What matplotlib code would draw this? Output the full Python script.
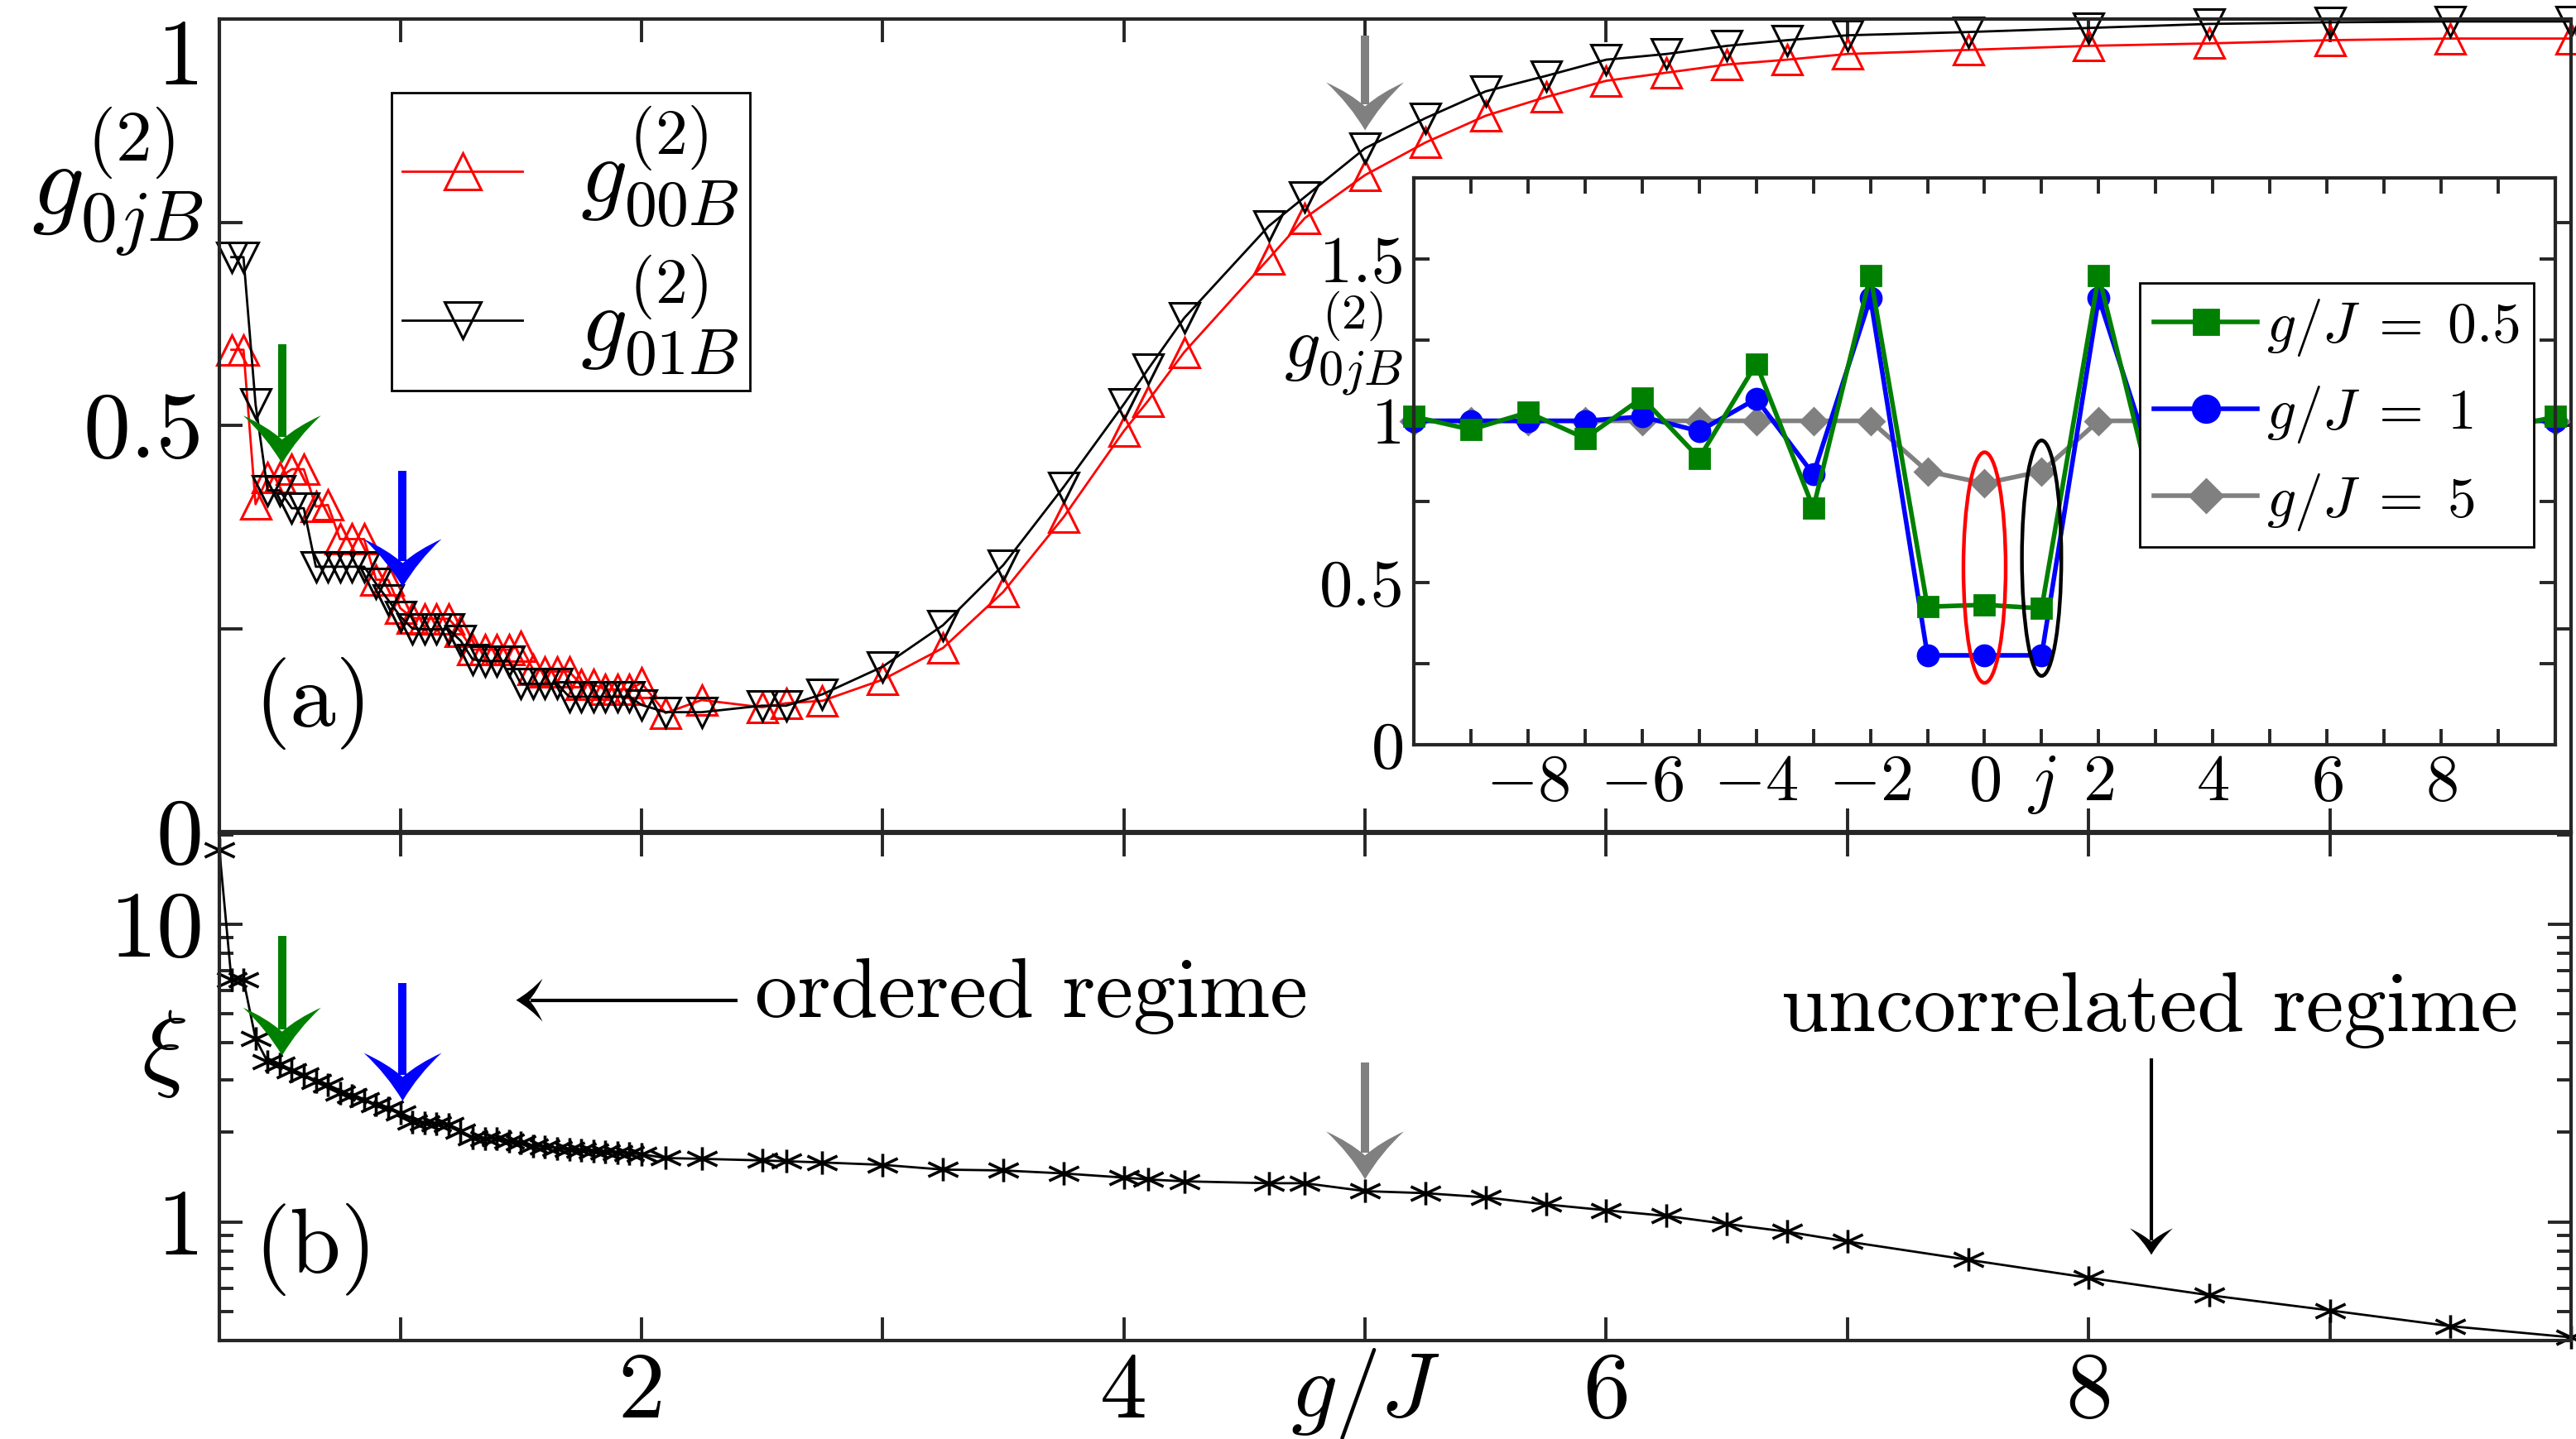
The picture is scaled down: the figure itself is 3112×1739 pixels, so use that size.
import numpy as np
import matplotlib
matplotlib.use('Agg')
import matplotlib.pyplot as plt
from matplotlib.path import Path
from matplotlib.patches import PathPatch, Ellipse
from matplotlib.lines import Line2D
from matplotlib.transforms import IdentityTransform

plt.rcParams['font.family'] = 'serif'
plt.rcParams['font.serif'] = ['cmr10']
plt.rcParams['mathtext.fontset'] = 'cm'
plt.rcParams['axes.formatter.use_mathtext'] = True

# ---- data ----
g_grid = [0.3, 0.35, 0.4, 0.45, 0.5, 0.55, 0.6, 0.65, 0.7, 0.75, 0.8, 0.85, 0.9, 0.95,
          1.0, 1.05, 1.1, 1.15, 1.2, 1.25, 1.3, 1.35, 1.4, 1.45, 1.5, 1.55, 1.6, 1.65,
          1.7, 1.75, 1.8, 1.85, 1.9, 1.95, 2.0, 2.1, 2.25, 2.5, 2.6, 2.75, 3.0, 3.25,
          3.5, 3.75, 4.0, 4.1, 4.25, 4.6, 4.75, 5.0, 5.25, 5.5, 5.75, 6.0, 6.25, 6.5,
          6.75, 7.0, 7.5, 8.0, 8.5, 9.0, 9.5, 10.0]
g00B = [0.593, 0.593, 0.403, 0.436, 0.436, 0.446, 0.446, 0.400, 0.402, 0.360, 0.360, 0.360,
        0.310, 0.310, 0.275, 0.263, 0.262, 0.262, 0.262, 0.246, 0.224, 0.224, 0.224, 0.224,
        0.228, 0.200, 0.197, 0.197, 0.197, 0.181, 0.181, 0.175, 0.175, 0.175, 0.183, 0.146,
        0.162, 0.153, 0.158, 0.161, 0.187, 0.226, 0.295, 0.387, 0.493, 0.530, 0.590, 0.705,
        0.755, 0.808, 0.848, 0.881, 0.904, 0.924, 0.934, 0.944, 0.950, 0.957, 0.962, 0.967,
        0.970, 0.974, 0.976, 0.976]
g01B = [0.707, 0.707, 0.526, 0.420, 0.420, 0.398, 0.398, 0.326, 0.326, 0.326, 0.326, 0.326,
        0.305, 0.285, 0.265, 0.250, 0.249, 0.249, 0.249, 0.235, 0.212, 0.210, 0.210, 0.210,
        0.182, 0.182, 0.182, 0.182, 0.166, 0.166, 0.166, 0.166, 0.166, 0.166, 0.156, 0.147,
        0.147, 0.155, 0.155, 0.169, 0.203, 0.254, 0.328, 0.424, 0.526, 0.569, 0.632, 0.745,
        0.781, 0.841, 0.878, 0.911, 0.930, 0.950, 0.957, 0.967, 0.974, 0.980, 0.984, 0.989,
        0.994, 0.996, 0.997, 0.997]

xi_grid = [0.25] + g_grid
xi = [17.8, 6.5, 6.5, 4.13, 3.45, 3.38, 3.22, 3.12, 2.96, 2.89, 2.71, 2.66, 2.57, 2.47,
      2.42, 2.32, 2.16, 2.15, 2.14, 2.12, 2.02, 1.92, 1.90, 1.91, 1.87, 1.84, 1.80, 1.79,
      1.77, 1.75, 1.74, 1.73, 1.72, 1.71, 1.70, 1.69, 1.64, 1.63, 1.61, 1.60, 1.585, 1.556,
      1.50, 1.49, 1.456, 1.41, 1.39, 1.37, 1.35, 1.35, 1.27, 1.25, 1.21, 1.146, 1.095,
      1.048, 0.985, 0.928, 0.86, 0.747, 0.65, 0.568, 0.505, 0.447, 0.41]

j_sites = [-10, -9, -8, -7, -6, -5, -4, -3, -2, -1, 0, 1, 2, 3, 4, 5, 6, 7, 8, 9, 10]
g2_05 = [1.013, 0.973, 1.026, 0.946, 1.071, 0.885, 1.176, 0.731, 1.449, 0.426, 0.432,
         0.421, 1.449, 0.731, 1.176, 0.885, 1.071, 0.946, 1.026, 0.973, 1.013]
g2_1 = [1.0, 1.0, 1.0, 1.0, 1.013, 0.968, 1.068, 0.835, 1.38, 0.276, 0.276, 0.276, 1.38,
        0.835, 1.068, 0.968, 1.013, 1.0, 1.0, 1.0, 1.0]
g2_5 = [1.0, 1.0, 1.0, 1.0, 1.0, 1.0, 1.0, 1.0, 1.0, 0.844, 0.807, 0.844, 1.0, 1.0, 1.0,
        1.0, 1.0, 1.0, 1.0, 1.0, 1.0]

# marked couplings g/J (arrows) and where the arrows sit
arrow_g = [0.51, 1.01, 5.0]
arrow_col = ['#008000', '#0000ff', '#808080']
arrow_top_a = [0.60, 0.444, 0.98]
arrow_tip_a = [0.453, 0.301, 0.863]
arrow_top_b = [9.12, 6.36, 3.43]
arrow_tip_b = [3.62, 2.55, 1.39]

DPI = 200
fig = plt.figure(figsize=(3112 / DPI, 1739 / DPI), dpi=DPI)
ax1 = fig.add_axes([0.08516, 0.42208, 0.91292, 0.56469])
ax2 = fig.add_axes([0.08516, 0.06843, 0.91292, 0.35250])
axi = fig.add_axes([0.54884, 0.48246, 0.44312, 0.39390])

spine_c = '0.15'
for a in (ax1, ax2, axi):
    for s in a.spines.values():
        s.set_color(spine_c)
        s.set_linewidth(1.5)
    a.tick_params(which='both', direction='in', top=True, right=True, color=spine_c,
                  width=1.4)
    a.tick_params(which='major', length=10)
    a.tick_params(which='minor', length=6)

# ---- panel (a) ----
ast = Path([(0, -0.78), (0, 0.78), (-1, -0.47), (1, 0.47), (-1, 0.47), (1, -0.47)],
           [Path.MOVETO, Path.LINETO] * 3)

l1, = ax1.plot(g_grid, g00B, color='red', lw=1.0, marker='^', ms=13, mfc='none',
               mec='red', mew=1.1, clip_on=False, label=r'$g^{(2)}_{00B}\;$')
l2, = ax1.plot(g_grid, g01B, color='black', lw=1.0, marker='v', ms=13, mfc='none',
               mec='black', mew=1.1, clip_on=False, label=r'$g^{(2)}_{01B}\;$')
ax1.set_xlim(0.25, 10)
ax1.set_ylim(0, 1)
ax1.set_xticks(range(1, 10))
ax1.set_xticklabels([])
ax1.set_yticks([0, 0.25, 0.5, 0.75, 1])
ax1.set_yticklabels(['0', '', '0.5', '', '1'], fontsize=41)
ax1.tick_params(axis='y', pad=7)
for lbl in ax1.get_yticklabels():
    if lbl.get_text() == '1':
        lbl.set_verticalalignment('top')
ax1.text(-0.0433, 0.80, r'$g^{(2)}_{0jB}$', transform=ax1.transAxes, fontsize=45,
         ha='center', va='center')
ax1.text(0.64, 0.158, '(a)', fontsize=40, ha='center', va='center')
leg = ax1.legend(loc='upper left', bbox_to_anchor=(0.0732, 0.909), borderaxespad=0,
                 fontsize=40, handlelength=1.3, markerscale=1.2, fancybox=False,
                 edgecolor='black', framealpha=1, labelspacing=0.25, borderpad=0.12,
                 handletextpad=0.63)
leg.get_frame().set_linewidth(1.0)

# ---- panel (b) ----
ax2.plot(xi_grid, xi, color='black', lw=1.0, marker=ast, ms=13, mew=1.3,
         clip_on=False)
ax2.set_yscale('log')
ax2.set_xlim(0.25, 10)
ax2.set_ylim(0.4, 20.2)
ax2.set_xticks(range(1, 10))
ax2.set_xticklabels(['', '2', '', '4', '', '6', '', '8', ''], fontsize=41)
ax2.set_yticks([1, 10])
ax2.set_yticklabels(['1', '10'], fontsize=41)
ax2.yaxis.set_minor_formatter(matplotlib.ticker.NullFormatter())
ax2.tick_params(axis='x', pad=5)
ax2.tick_params(axis='y', pad=7)
ax2.text(-0.0236, 0.566, r'$\xi$', transform=ax2.transAxes, fontsize=42,
         ha='center', va='center')
ax2.text(5.0, -0.105, r'$g/J$', transform=ax2.get_xaxis_transform(), fontsize=40,
         ha='center', va='center')
ax2.text(0.65, 0.81, '(b)', fontsize=40, ha='center', va='center')
ax2.text(2.47, 4.87, 'ordered regime', fontsize=37, ha='left', va='baseline')
ax2.text(6.726, 4.37, 'uncorrelated regime', fontsize=37, ha='left', va='baseline')

# ---- inset ----
axi.set_facecolor('white')
lg5, = axi.plot(j_sites, g2_5, color='#808080', lw=2.0, marker='D', ms=8,
                clip_on=False, label=r'$g/J\;=\;5$')
lg1, = axi.plot(j_sites, g2_1, color='#0000ff', lw=2.0, marker='o', ms=9,
                clip_on=False, label=r'$g/J\;=\;1$')
lg05, = axi.plot(j_sites, g2_05, color='#008000', lw=2.0, marker='s', ms=8.5,
                 clip_on=False, label=r'$g/J\;=\;0.5$')
axi.add_patch(Ellipse((0, 0.547), 0.74, 0.712, fill=False, edgecolor='red', lw=1.6,
                      zorder=5))
axi.add_patch(Ellipse((1, 0.576), 0.69, 0.727, fill=False, edgecolor='black', lw=1.6,
                      zorder=5))
axi.set_xlim(-10, 10)
axi.set_ylim(0, 1.75)
axi.set_xticks(range(-9, 10))
axi.set_xticklabels(['' if (k % 2 and k != 1) else ('$j$' if k == 1 else '$%d$' % k)
                     for k in range(-9, 10)], fontsize=29)
axi.set_yticks([0, 0.5, 1, 1.5])
axi.set_yticks([0.25, 0.75, 1.25], minor=True)
axi.set_yticklabels(['0', '0.5', '1', '1.5'], fontsize=29)
axi.tick_params(which='major', length=7)
axi.tick_params(which='minor', length=7)
axi.tick_params(axis='x', pad=4)
axi.tick_params(axis='y', pad=4)
axi.text(-0.062, 0.708, r'$g^{(2)}_{0jB}$', transform=axi.transAxes, fontsize=31,
         ha='center', va='center')
legi = axi.legend(handles=[lg05, lg1, lg5], loc='upper left',
                  bbox_to_anchor=(0.636, 0.815), borderaxespad=0, fontsize=25,
                  handlelength=1.8, markerscale=1.3, fancybox=False, edgecolor='black',
                  framealpha=1, labelspacing=0.45, borderpad=0.25, handletextpad=0.15)
legi.get_frame().set_linewidth(1.0)
legi.set_zorder(10)


def vback_arrow(ax, p_start, p_tip, color, lw, W, H):
    # arrow with a swallow-tail head; W, H in pixels
    p0 = ax.transData.transform(p_start)
    p1 = ax.transData.transform(p_tip)
    d = p1 - p0
    u = d / np.hypot(*d)
    n = np.array([-u[1], u[0]])
    pm = p1 - u * H * 0.55
    ax.add_line(Line2D([p0[0], pm[0]], [p0[1], pm[1]], color=color, lw=lw,
                       transform=IdentityTransform(), solid_capstyle='butt',
                       clip_on=False, zorder=6))
    loc = [(0, 0), (0.55 * H, 0.2 * W), (H, 0.5 * W), (0.78 * H, 0.2 * W),
           (0.5 * H, 0), (0.78 * H, -0.2 * W), (H, -0.5 * W), (0.55 * H, -0.2 * W),
           (0, 0), (0, 0)]
    verts = [p1 - u * s + n * t for s, t in loc]
    codes = [Path.MOVETO] + [Path.CURVE3] * 8 + [Path.CLOSEPOLY]
    ax.add_patch(PathPatch(Path(verts, codes), facecolor=color, edgecolor='none',
                           transform=IdentityTransform(), clip_on=False, zorder=6))


for k in range(3):
    vback_arrow(ax1, (arrow_g[k], arrow_top_a[k]), (arrow_g[k], arrow_tip_a[k]),
                arrow_col[k], 3.6, 94, 58)
    vback_arrow(ax2, (arrow_g[k], arrow_top_b[k]), (arrow_g[k], arrow_tip_b[k]),
                arrow_col[k], 3.6, 94, 58)

vback_arrow(ax2, (2.40, 5.56), (1.48, 5.56), 'black', 1.5, 52, 32)
vback_arrow(ax2, (8.26, 3.54), (8.26, 0.776), 'black', 1.5, 52, 32)

fig.savefig('out.png', dpi=DPI)
